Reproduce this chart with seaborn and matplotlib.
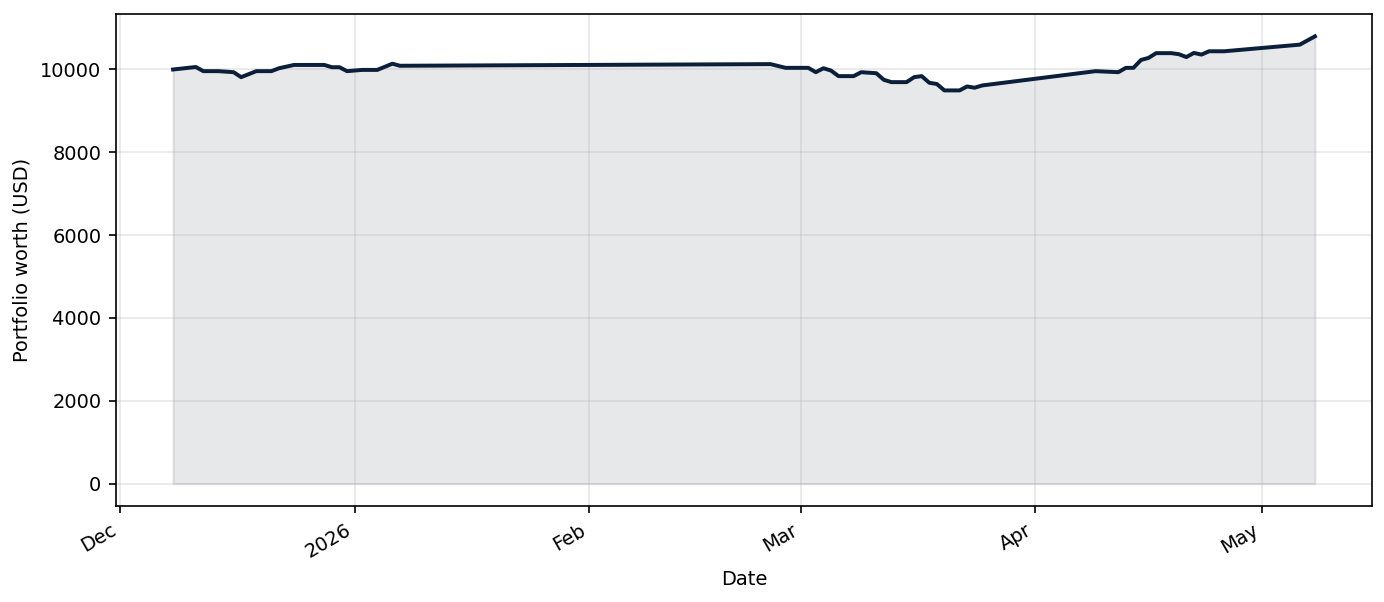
import matplotlib
matplotlib.use("Agg")
import matplotlib.pyplot as plt
import matplotlib.dates as mdates
import pandas as pd
import seaborn as sns

dates = [
    "2025-12-08", "2025-12-11", "2025-12-12", "2025-12-14", "2025-12-16",
    "2025-12-17", "2025-12-19", "2025-12-21", "2025-12-22", "2025-12-24",
    "2025-12-28", "2025-12-29", "2025-12-30", "2025-12-31", "2026-01-02",
    "2026-01-04", "2026-01-06", "2026-01-07", "2026-02-25", "2026-02-27",
    "2026-03-02", "2026-03-03", "2026-03-04", "2026-03-05", "2026-03-06",
    "2026-03-08", "2026-03-09", "2026-03-11", "2026-03-12", "2026-03-13",
    "2026-03-15", "2026-03-16", "2026-03-17", "2026-03-18", "2026-03-19",
    "2026-03-20", "2026-03-22", "2026-03-23", "2026-03-24", "2026-03-25",
    "2026-04-09", "2026-04-12", "2026-04-13", "2026-04-14", "2026-04-15",
    "2026-04-16", "2026-04-17", "2026-04-19", "2026-04-20", "2026-04-21",
    "2026-04-22", "2026-04-23", "2026-04-24", "2026-04-26", "2026-05-06",
    "2026-05-08",
]
worth = [
    10000, 10060, 9960, 9960, 9935,
    9815, 9960, 9960, 10030, 10110,
    10110, 10055, 10055, 9960, 9990,
    9990, 10140, 10090, 10130, 10040,
    10040, 9935, 10030, 9975, 9840,
    9840, 9935, 9910, 9750, 9695,
    9695, 9815, 9840, 9680, 9650,
    9495, 9495, 9590, 9560, 9615,
    9960, 9935, 10040, 10040, 10230,
    10280, 10395, 10395, 10370, 10300,
    10400, 10360, 10440, 10440, 10600,
    10800,
]

navy = "#0b1f3a"
plt.rcParams["font.size"] = 9.3

df = pd.DataFrame({"date": pd.to_datetime(dates), "worth": worth})

fig, ax = plt.subplots(figsize=(1385 / 150, 602 / 150), dpi=150)
sns.lineplot(data=df, x="date", y="worth", color=navy, linewidth=1.9, ax=ax)
ax.fill_between(df["date"], df["worth"], 0, color=navy, alpha=0.1)

locator = mdates.MonthLocator()
ax.xaxis.set_major_locator(locator)
ax.xaxis.set_major_formatter(mdates.ConciseDateFormatter(locator))
ax.grid(True, alpha=0.3)
ax.set_xlabel("Date")
ax.set_ylabel("Portfolio worth (USD)")
plt.setp(ax.get_xticklabels(), rotation=30, ha="right")

fig.subplots_adjust(left=116 / 1385, right=1372 / 1385, top=1 - 14 / 602, bottom=1 - 506 / 602)
fig.savefig("out.png", dpi=150)
plt.close(fig)
